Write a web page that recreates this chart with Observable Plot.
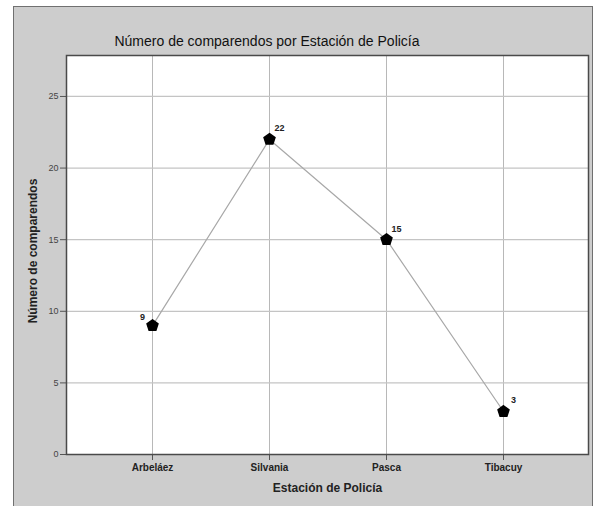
<!DOCTYPE html>
<html>
<head>
<meta charset="utf-8">
<script src="https://cdn.jsdelivr.net/npm/d3@7"></script>
<script src="https://cdn.jsdelivr.net/npm/@observablehq/plot@0.6"></script>
<style>
  html, body { margin: 0; padding: 0; background: #fff; }
  #wrap { position: relative; width: 594px; height: 506px; overflow: hidden; font-family: "Liberation Sans", Arial, sans-serif; }
  #panel { position: absolute; left: 13px; top: 6px; width: 578px; height: 510px; background: #cdcdcd;
           border-left: 1.5px solid #707070; border-top: 1.5px solid #707070; border-right: 1.5px solid #707070; }
  #title { position: absolute; left: 0; top: 33px; width: 534px; text-align: center; font-size: 14px; color: #111; }
  #chart { position: absolute; left: 0; top: 0; }
</style>
</head>
<body>
<div id="wrap">
  <div id="panel"></div>
  <div id="title">Número de comparendos por Estación de Policía</div>
  <div id="chart"></div>
</div>
<script>
const stations = ["Arbeláez", "Silvania", "Pasca", "Tibacuy"];
const counts = [9, 22, 15, 3];
const yTicks = [0, 5, 10, 15, 20, 25];
const xLabel = "Estación de Policía";
const yLabel = "Número de comparendos";

const data = stations.map((s, i) => ({station: s, count: counts[i]}));

const pentagon = {
  draw(context, size) {
    const R = Math.sqrt(size / Math.PI) * 1.15;
    for (let k = 0; k < 5; k++) {
      const a = -Math.PI / 2 + k * 2 * Math.PI / 5;
      const px = R * Math.cos(a), py = R * Math.sin(a);
      if (k === 0) context.moveTo(px, py); else context.lineTo(px, py);
    }
    context.closePath();
  }
};

const chart = Plot.plot({
  width: 594,
  height: 506,
  marginLeft: 66,
  marginTop: 55,
  marginRight: 6,
  marginBottom: 52,
  style: { background: "transparent", fontFamily: "'Liberation Sans', Arial, sans-serif", overflow: "visible" },
  x: { type: "point", domain: stations, padding: 0.73, label: null },
  y: { domain: [0, 27.86], label: null },
  marks: [
    Plot.frame({ fill: "white", stroke: null }),
    Plot.gridX({ stroke: "#b8b8b8", strokeOpacity: 1, strokeWidth: 1 }),
    Plot.gridY(yTicks, { stroke: "#c4c4c4", strokeOpacity: 1, strokeWidth: 1.2 }),
    Plot.line(data, { x: "station", y: "count", stroke: "#a8a8a8", strokeWidth: 1.2 }),
    Plot.dot(data, { x: "station", y: "count", symbol: pentagon, r: 5, fill: "black", stroke: "black" }),
    Plot.text(data.filter((d, i) => i === 0), { x: "station", y: "count", text: d => String(d.count), dx: -10, dy: -8, fontSize: 9, fontWeight: "bold", fill: "#222" }),
    Plot.text(data.filter((d, i) => i > 0), { x: "station", y: "count", text: d => String(d.count), dx: 10, dy: -11, fontSize: 9, fontWeight: "bold", fill: "#222" }),
    Plot.axisX({ tickSize: 6, tickPadding: 3, fontSize: 10, fontWeight: "bold", stroke: "#555", fill: "#222", label: null }),
    Plot.axisY(yTicks, { tickSize: 6, tickPadding: 2, fontSize: 9, stroke: "#555", fill: "#444", label: null }),
    Plot.frame({ stroke: "#4a4a4a", strokeWidth: 1.5 }),
    Plot.text([xLabel], { frameAnchor: "bottom", dy: 37, text: d => d, fontSize: 12, fontWeight: "bold", fill: "#222" }),
    Plot.text([yLabel], { frameAnchor: "left", dx: -33, dy: -4, rotate: -90, textAnchor: "middle", text: d => d, fontSize: 12, fontWeight: "bold", fill: "#222" })
  ]
});
document.getElementById("chart").appendChild(chart);
</script>
</body>
</html>
